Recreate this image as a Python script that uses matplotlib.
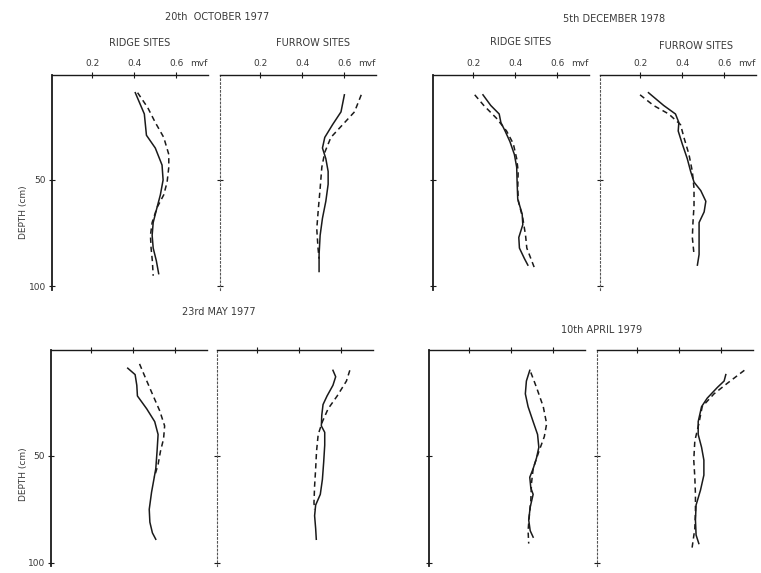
import matplotlib.pyplot as plt

# soil moisture profiles, depth in cm, moisture in mvf
# 20th October 1977
oct_ridge_solid_d = [9, 19, 29, 35, 43, 50, 57, 63, 70, 76, 82, 88, 94]
oct_ridge_solid_v = [0.405, 0.448, 0.458, 0.50, 0.532, 0.537, 0.524, 0.508, 0.49, 0.485, 0.49, 0.505, 0.516]
oct_ridge_dash_d = [9, 16, 23, 30, 38, 44, 51, 57, 63, 70, 76, 82, 88, 95]
oct_ridge_dash_v = [0.416, 0.464, 0.50, 0.54, 0.564, 0.564, 0.556, 0.54, 0.508, 0.485, 0.477, 0.48, 0.486, 0.49]
oct_furrow_solid_d = [10, 18, 24, 30, 35, 40, 46, 52, 60, 68, 76, 85, 93]
oct_furrow_solid_v = [0.60, 0.584, 0.544, 0.507, 0.496, 0.512, 0.523, 0.523, 0.512, 0.496, 0.485, 0.48, 0.48]
oct_furrow_dash_d = [10, 18, 24, 30, 37, 44, 54, 63, 73, 82, 87]
oct_furrow_dash_v = [0.68, 0.648, 0.592, 0.536, 0.507, 0.493, 0.485, 0.477, 0.469, 0.475, 0.48]

# 5th December 1978
dec_ridge_solid_d = [10, 15, 19, 23, 27, 32, 38, 44, 51, 59, 66, 71, 77, 82, 87, 90]
dec_ridge_solid_v = [0.247, 0.284, 0.324, 0.332, 0.352, 0.375, 0.396, 0.407, 0.409, 0.412, 0.433, 0.436, 0.417, 0.42, 0.444, 0.46]
dec_ridge_dash_d = [10, 15, 21, 27, 33, 40, 46, 54, 60, 68, 76, 82, 91]
dec_ridge_dash_v = [0.208, 0.251, 0.311, 0.359, 0.391, 0.407, 0.414, 0.412, 0.415, 0.436, 0.449, 0.455, 0.49]
dec_furrow_solid_d = [9, 15, 19, 23, 27, 33, 40, 46, 51, 55, 60, 65, 70, 77, 85, 90]
dec_furrow_solid_v = [0.24, 0.312, 0.368, 0.384, 0.381, 0.40, 0.424, 0.44, 0.456, 0.488, 0.512, 0.504, 0.48, 0.48, 0.48, 0.472]
dec_furrow_dash_d = [10, 15, 19, 24, 30, 38, 46, 54, 62, 70, 77, 85]
dec_furrow_dash_v = [0.20, 0.264, 0.336, 0.392, 0.408, 0.432, 0.448, 0.456, 0.456, 0.451, 0.448, 0.456]

# 23rd May 1977
may_ridge_solid_d = [9, 12, 17, 22, 28, 34, 40, 48, 56, 61, 67, 75, 81, 86, 89]
may_ridge_solid_v = [0.374, 0.409, 0.417, 0.42, 0.464, 0.502, 0.518, 0.513, 0.507, 0.498, 0.487, 0.476, 0.479, 0.491, 0.507]
may_ridge_dash_d = [7, 14, 22, 29, 36, 42, 48, 54, 60]
may_ridge_dash_v = [0.43, 0.46, 0.495, 0.526, 0.549, 0.544, 0.529, 0.518, 0.50]
may_furrow_solid_d = [10, 13, 17, 22, 26, 31, 36, 39, 45, 53, 61, 68, 73, 78, 84, 89]
may_furrow_solid_v = [0.56, 0.573, 0.56, 0.532, 0.513, 0.507, 0.505, 0.521, 0.521, 0.516, 0.51, 0.50, 0.478, 0.473, 0.478, 0.481]
may_furrow_dash_d = [10, 15, 22, 28, 34, 40, 48, 56, 64, 72, 75]
may_furrow_dash_v = [0.64, 0.624, 0.58, 0.537, 0.51, 0.49, 0.482, 0.478, 0.473, 0.47, 0.473]

# 10th April 1979
apr_ridge_solid_d = [10, 15, 21, 27, 34, 40, 46, 51, 56, 60, 65, 68, 74, 80, 85, 88]
apr_ridge_solid_v = [0.488, 0.472, 0.467, 0.48, 0.504, 0.525, 0.531, 0.52, 0.504, 0.488, 0.493, 0.504, 0.49, 0.483, 0.49, 0.504]
apr_ridge_dash_d = [11, 18, 27, 35, 41, 48, 56, 63, 71, 79, 85, 91]
apr_ridge_dash_v = [0.493, 0.52, 0.552, 0.568, 0.557, 0.531, 0.504, 0.496, 0.493, 0.485, 0.48, 0.483]
apr_furrow_solid_d = [12, 15, 18, 23, 27, 34, 40, 46, 52, 59, 66, 73, 80, 87, 91]
apr_furrow_solid_v = [0.621, 0.613, 0.581, 0.533, 0.506, 0.49, 0.49, 0.506, 0.517, 0.517, 0.501, 0.48, 0.477, 0.48, 0.493]
apr_furrow_dash_d = [10, 13, 16, 21, 27, 35, 43, 52, 60, 68, 76, 84, 93]
apr_furrow_dash_v = [0.709, 0.669, 0.629, 0.565, 0.509, 0.493, 0.474, 0.469, 0.474, 0.477, 0.477, 0.474, 0.461]

xticks = [0.2, 0.4, 0.6]
xtick_labels = ["0.2", "0.4", "0.6"]
yticks = [50, 100]

W, H = 761, 573
ink = "#1a1a1a"
text_col = "#3a3a3a"

fig = plt.figure(figsize=(W / 100, H / 100), dpi=100)
fig.patch.set_facecolor("white")


def add_panel(left, top, width, height):
    return fig.add_axes([left / W, 1 - (top + height) / H, width / W, height / H])


def panel(ax, sd, sv, dd, dv, ridge, top_labels, left_labels):
    ax.plot(sv, sd, color=ink, lw=1.1)
    ax.plot(dv, dd, color=ink, lw=1.1, ls=(0, (3.5, 2.5)))
    ax.set_xlim(0.01, 0.75)
    ax.set_ylim(101.5, 0.5)
    for s in ["right", "bottom"]:
        ax.spines[s].set_visible(False)
    ax.spines["top"].set_color(ink)
    ax.spines["top"].set_linewidth(1.0)
    if ridge:
        ax.spines["left"].set_color(ink)
        ax.spines["left"].set_linewidth(1.3)
    else:
        # furrow panels have a faint dotted left axis
        ax.spines["left"].set_color("#555555")
        ax.spines["left"].set_linewidth(0.8)
        ax.spines["left"].set_linestyle((0, (1.5, 2)))
    ax.xaxis.tick_top()
    ax.set_xticks(xticks)
    ax.set_yticks(yticks)
    ax.tick_params(axis="both", direction="inout", length=5, width=0.8,
                   colors=ink, labelcolor=text_col, labelsize=6.5, pad=2)
    if top_labels:
        ax.set_xticklabels(xtick_labels)
        ax.annotate("mvf", xy=(0.665, 1.0), xycoords=ax.get_xaxis_transform(),
                    xytext=(0, 4.5), textcoords="offset points",
                    fontsize=6.5, color=text_col, ha="left", va="bottom")
    else:
        ax.set_xticklabels([])
    if left_labels:
        ax.set_yticklabels([str(t) for t in yticks])
    else:
        ax.set_yticklabels([])
    ax.set_facecolor("none")


# top row
ax1 = add_panel(52, 74.6, 156, 215)
ax2 = add_panel(220, 74.6, 156, 215)
ax3 = add_panel(433, 74.6, 156, 215)
ax4 = add_panel(600, 74.6, 156, 215)
# bottom row
ax5 = add_panel(51, 350, 156, 216)
ax6 = add_panel(217, 350, 156, 216)
ax7 = add_panel(429, 350, 156, 216)
ax8 = add_panel(597, 350, 156, 216)

panel(ax1, oct_ridge_solid_d, oct_ridge_solid_v, oct_ridge_dash_d, oct_ridge_dash_v, True, True, True)
panel(ax2, oct_furrow_solid_d, oct_furrow_solid_v, oct_furrow_dash_d, oct_furrow_dash_v, False, True, False)
panel(ax3, dec_ridge_solid_d, dec_ridge_solid_v, dec_ridge_dash_d, dec_ridge_dash_v, True, True, False)
panel(ax4, dec_furrow_solid_d, dec_furrow_solid_v, dec_furrow_dash_d, dec_furrow_dash_v, False, True, False)
panel(ax5, may_ridge_solid_d, may_ridge_solid_v, may_ridge_dash_d, may_ridge_dash_v, True, False, True)
panel(ax6, may_furrow_solid_d, may_furrow_solid_v, may_furrow_dash_d, may_furrow_dash_v, False, False, False)
panel(ax7, apr_ridge_solid_d, apr_ridge_solid_v, apr_ridge_dash_d, apr_ridge_dash_v, True, False, False)
panel(ax8, apr_furrow_solid_d, apr_furrow_solid_v, apr_furrow_dash_d, apr_furrow_dash_v, False, False, False)


def ftext(x, y, s, **kw):
    fig.text(x / W, 1 - y / H, s, ha="center", va="center", color=text_col, **kw)


ftext(217, 17, "20th  OCTOBER 1977", fontsize=7)
ftext(140, 43, "RIDGE SITES", fontsize=7)
ftext(313, 43, "FURROW SITES", fontsize=7)
ftext(614, 19, "5th DECEMBER 1978", fontsize=7)
ftext(521, 42, "RIDGE SITES", fontsize=7)
ftext(696, 46, "FURROW SITES", fontsize=7)
ftext(219, 312, "23rd MAY 1977", fontsize=7)
ftext(602, 330, "10th APRIL 1979", fontsize=7)
ftext(24, 212, "DEPTH (cm)", fontsize=6.5, rotation=90)
ftext(24, 474, "DEPTH (cm)", fontsize=6.5, rotation=90)

fig.savefig("out.png", dpi=100)
